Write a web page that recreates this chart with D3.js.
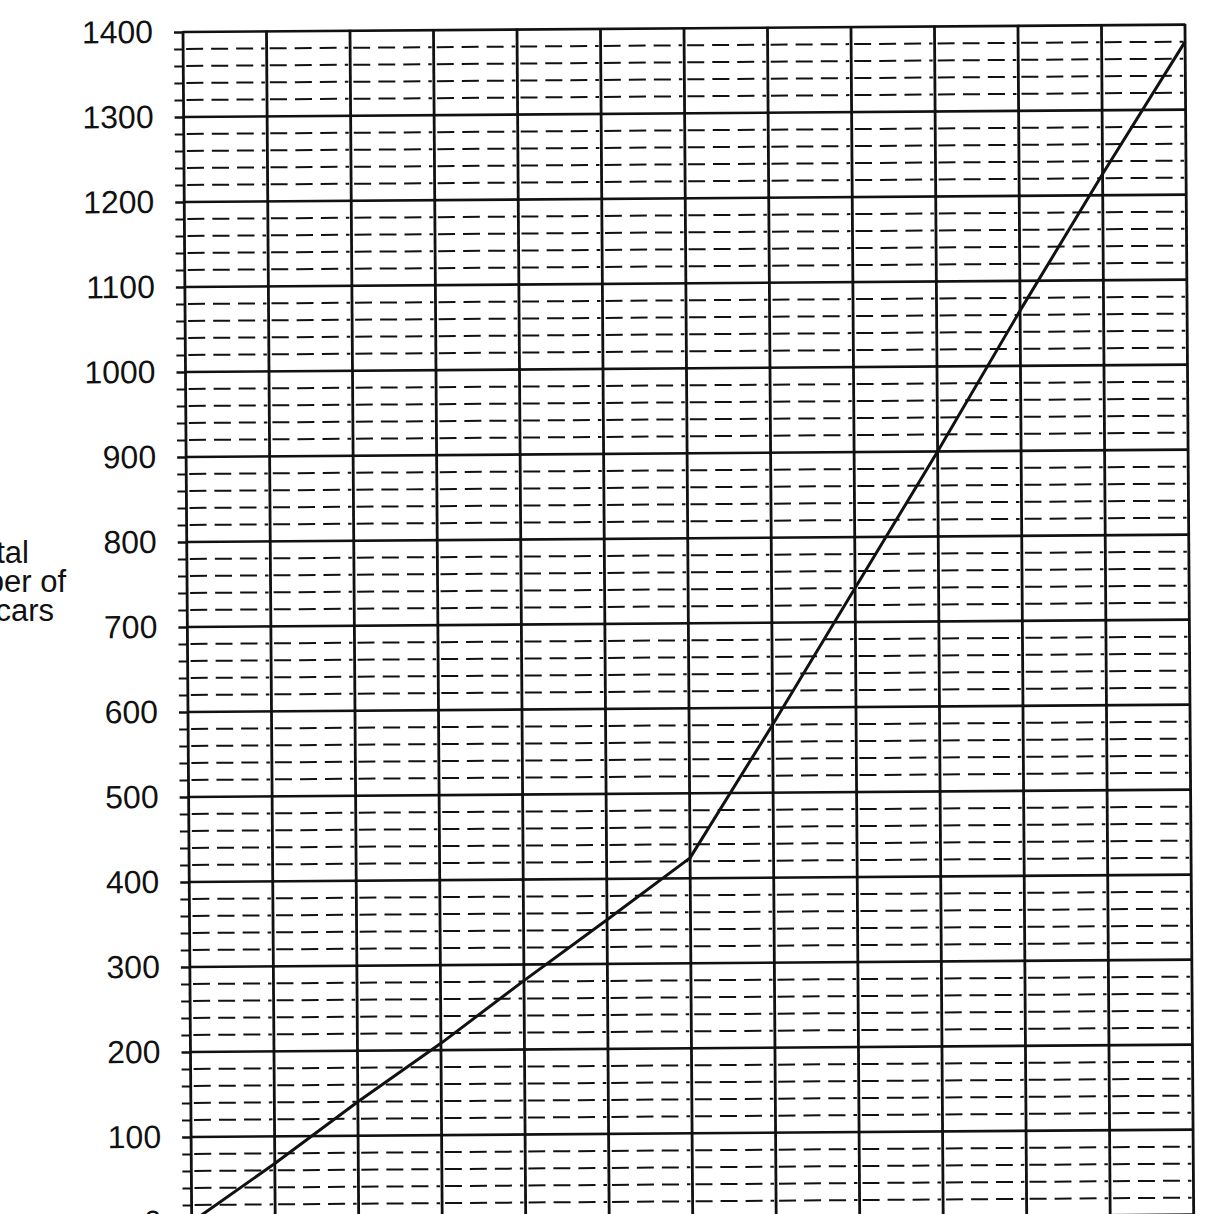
<!DOCTYPE html>
<html><head><meta charset="utf-8">
<script src="https://cdn.jsdelivr.net/npm/d3@7"></script>
<style>
body{margin:0;background:#fff;overflow:hidden}
text{font-family:"Liberation Sans",Arial,sans-serif;fill:#111}
</style>
</head><body>
<svg id="c" width="1217" height="1214"></svg>
<script>
// ---- data ----
const xValues   = [0, 1, 2, 3, 4, 5, 6, 7, 8, 9, 10, 11, 12];
const totalCars = [0, 68, 140, 208, 281, 352, 424, 580, 740, 900, 1065, 1225, 1380];
const yTicks    = [0, 100, 200, 300, 400, 500, 600, 700, 800, 900, 1000, 1100, 1200, 1300, 1400];
const yMinorTicks = d3.range(20, 1400, 20).filter(v => v % 100 !== 0);
const yTitleLines = ["Total", "number of", "cars"];

// ---- layout ----
const marginLeft = 183, marginTop = 32, plotW = 1002, plotH = 1190;
const ink = "#111";

const svg = d3.select("#c");
svg.append("rect").attr("width", 1217).attr("height", 1214).attr("fill", "#fff");

const x = d3.scaleLinear().domain([0, 12]).range([0, plotW]);
const y = d3.scaleLinear().domain([0, 1400]).range([plotH, 0]);

// slight scan rotation
const g = svg.append("g")
  .attr("transform", `translate(${marginLeft},${marginTop}) rotate(-0.42)`);

// minor dashed lines, per grid cell
const cells = d3.range(0, 12);
const minorG = g.append("g");
yMinorTicks.forEach(v => {
  cells.forEach(i => {
    minorG.append("line")
      .attr("x1", x(i) + 3).attr("x2", x(i + 1) - 2)
      .attr("y1", y(v)).attr("y2", y(v))
      .attr("stroke", ink).attr("stroke-width", 2)
      .attr("stroke-dasharray", "17 8");
  });
});

// minor tick marks on left
const minorAxis = d3.axisLeft(y).tickValues(yMinorTicks).tickSize(9).tickFormat("");
g.append("g").call(minorAxis)
  .call(s => s.select(".domain").remove())
  .call(s => s.selectAll(".tick line").attr("stroke", ink).attr("stroke-width", 2));

// major horizontal lines
g.append("g").selectAll("line").data(yTicks).join("line")
  .attr("x1", 0).attr("x2", plotW)
  .attr("y1", d => y(d)).attr("y2", d => y(d))
  .attr("stroke", ink).attr("stroke-width", 2.6);

// vertical grid lines
g.append("g").selectAll("line").data(xValues).join("line")
  .attr("x1", d => x(d)).attr("x2", d => x(d))
  .attr("y1", y(1400) - 1).attr("y2", y(0))
  .attr("stroke", ink).attr("stroke-width", 2.8);

// y axis with labels
const yAxis = d3.axisLeft(y).tickValues(yTicks).tickSize(9).tickPadding(21).tickFormat(d3.format("d"));
g.append("g").call(yAxis)
  .call(s => s.select(".domain").remove())
  .call(s => s.selectAll(".tick line").attr("stroke", ink).attr("stroke-width", 2.6))
  .call(s => s.selectAll(".tick text")
      .attr("font-size", 32)
      .attr("font-family", "Liberation Sans, Arial, sans-serif")
      .attr("fill", ink));

// data line
const line = d3.line().x((d, i) => x(xValues[i])).y(d => y(d));
g.append("path").datum(totalCars)
  .attr("d", line)
  .attr("fill", "none").attr("stroke", ink).attr("stroke-width", 3)
  .attr("stroke-linejoin", "round");

// y title (cropped on left in reference)
const titleEnds = [29, 66, 54];
const titleBase = [563, 592, 621];
svg.append("g").selectAll("text").data(yTitleLines).join("text")
  .attr("x", (d, i) => titleEnds[i])
  .attr("y", (d, i) => titleBase[i])
  .attr("text-anchor", "end")
  .attr("font-size", 31)
  .text(d => d);
</script>
</body></html>
